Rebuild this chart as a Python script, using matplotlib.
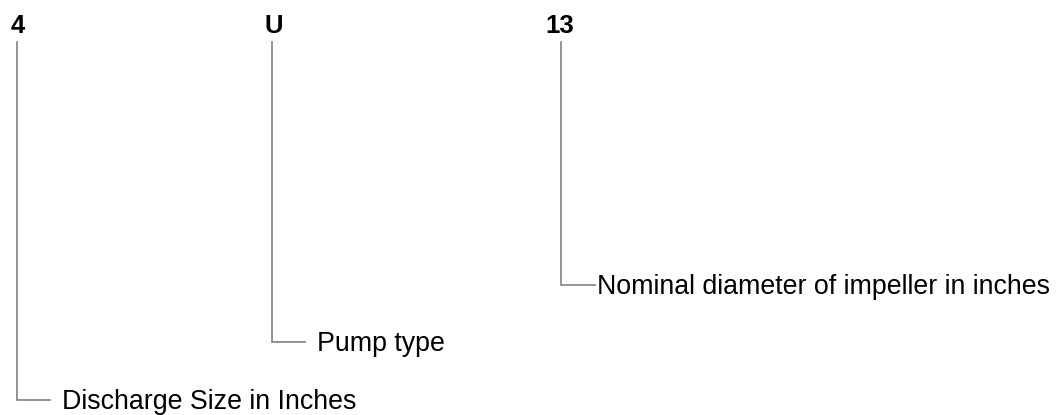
import matplotlib
matplotlib.use("Agg")
import matplotlib.pyplot as plt

codes = ["4", "U", "13"]
descriptions = ["Discharge Size in Inches", "Pump type", "Nominal diameter of impeller in inches"]

# layout (pixel coordinates)
code_x = [11, 265, 545]
line_x = [17, 272, 561]
elbow_y = [400, 342, 285]
elbow_end = [50, 305, 595]
text_x = [62, 317, 597]

plt.rcParams['font.family'] = ['Liberation Sans', 'DejaVu Sans']
fig = plt.figure(figsize=(10.59, 4.15), dpi=100)
ax = fig.add_axes([0, 0, 1, 1])
ax.set_xlim(0, 1059)
ax.set_ylim(415, 0)
ax.axis('off')

for c, d, cx, lx, ey, ee, tx in zip(codes, descriptions, code_x, line_x, elbow_y, elbow_end, text_x):
    ax.text(cx, 33, c, fontsize=18.5, fontweight='bold', ha='left', va='baseline', color='black')
    ax.plot([lx, lx, ee], [42, ey, ey], color='#808080', lw=1.2, solid_joinstyle='miter')
    ax.text(tx, ey + 9, d, fontsize=19.3, ha='left', va='baseline', color='black')

fig.savefig("out.png", dpi=100)
